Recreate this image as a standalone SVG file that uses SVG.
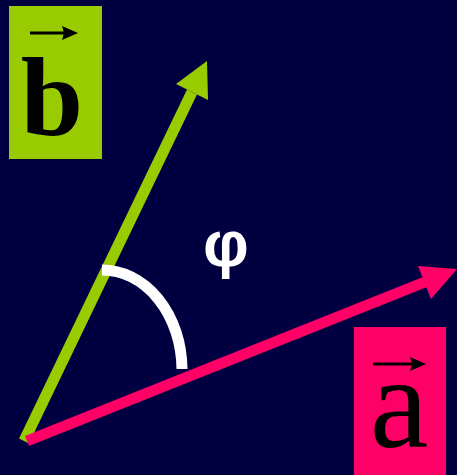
<svg xmlns="http://www.w3.org/2000/svg" width="457" height="475" viewBox="0 0 457 475">
<style>
.lbl{font-family:"Liberation Serif","Times New Roman",serif;fill:#000}
.vec{stroke:#000;stroke-width:3;fill:none}
</style>
<rect width="457" height="475" fill="#000040"/>
<g id="connectors">
<path d="M24,441 L192,92" stroke="#99CC00" stroke-width="11" fill="none"/>
<polygon points="207,61 176,84 208,100" fill="#99CC00"/>
<path d="M27,441 L425,282" stroke="#FF0066" stroke-width="11" fill="none"/>
<polygon points="457,269 418,266 431,299" fill="#FF0066"/>
</g>
<g id="angle">
<path d="M102,270 A80,100 0 0 1 182,369" stroke="#FFFFFF" stroke-width="11" fill="none"/>
<text x="226" y="266" font-family="Liberation Sans, Arial, sans-serif" font-weight="bold" font-size="64" fill="#FFFFFF" text-anchor="middle">φ</text>
</g>
<g id="b">
<rect x="9" y="6" width="93" height="153" fill="#99CC00"/>
<path class="vec" d="M30,33 L68,33"/>
<polygon points="78,33 62,26 64,33 62,40" fill="#000"/>
<text class="lbl" x="52" y="135" font-size="112" font-weight="bold" text-anchor="middle">b</text>
</g>
<g id="a">
<rect x="354" y="327" width="92" height="148" fill="#FF0066"/>
<path class="vec" d="M373,364 L416,364"/>
<polygon points="426,364 410,357 412,364 410,371" fill="#000"/>
<text class="lbl" x="399" y="447" font-size="132" text-anchor="middle">a</text>
</g>
</svg>
